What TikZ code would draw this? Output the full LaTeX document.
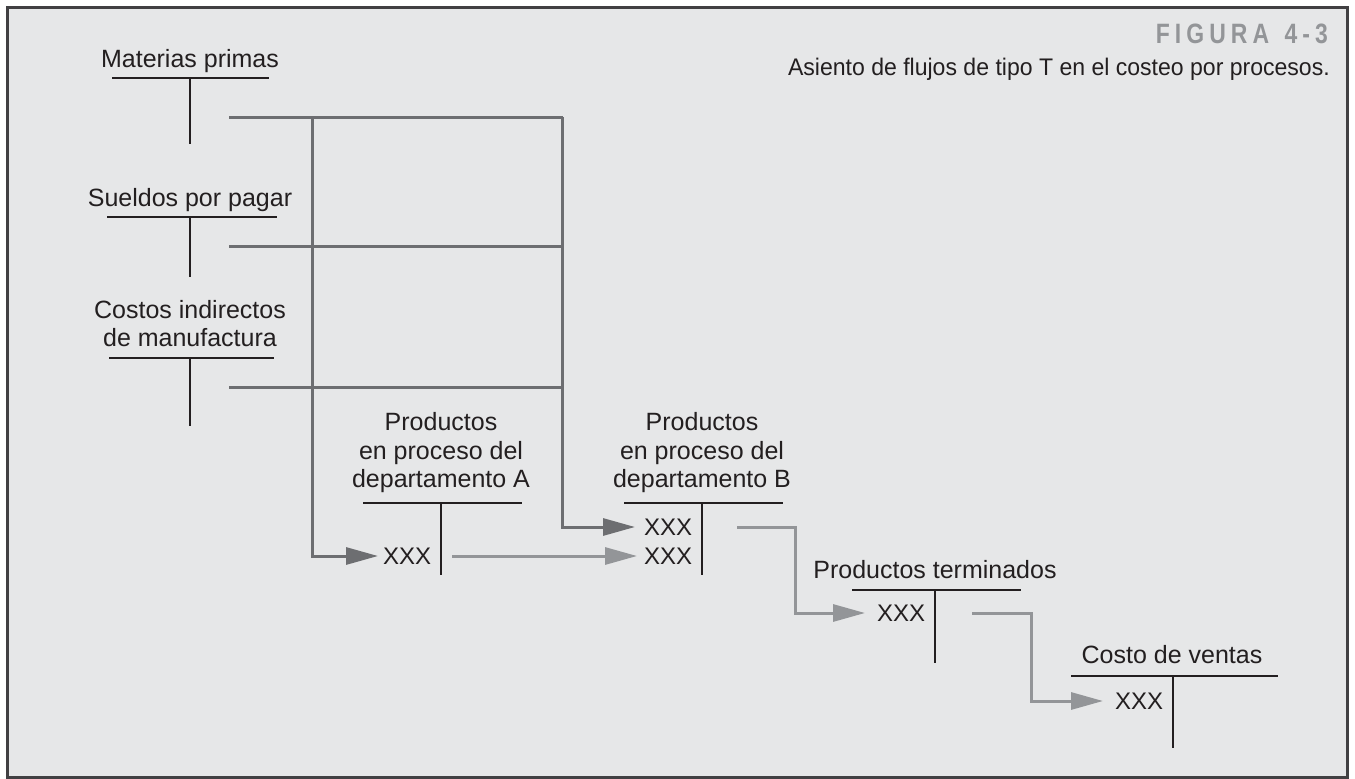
\documentclass[tikz,border=0pt]{standalone}
\usepackage{fontspec}
\setmainfont{Liberation Sans}
\newfontfamily\capfont[FakeStretch=0.96]{Liberation Sans}
\newfontfamily\figfont[LetterSpace=18,FakeStretch=0.82]{Liberation Sans}
\usetikzlibrary{arrows.meta}
\definecolor{bg}{HTML}{E6E7E8}
\definecolor{framec}{HTML}{414042}
\definecolor{bus}{HTML}{6D6E71}
\definecolor{flow}{HTML}{939598}
\definecolor{ink}{HTML}{231F20}
\begin{document}
\begin{tikzpicture}[x=1pt,y=-1pt,
  lbl/.style={font=\fontsize{25}{28.7}\selectfont, text=ink, align=center, anchor=south, inner sep=0pt, text depth=0pt},
  amount/.style={font=\fontsize{24}{28}\selectfont, text=ink, anchor=west, inner sep=0pt},
  tline/.style={draw=ink, line width=1.8pt},
  busline/.style={draw=bus, line width=3pt},
  darkflow/.style={busline, -{Triangle[length=32pt,width=17pt]}},
  lightflow/.style={draw=flow, line width=3pt, -{Triangle[length=32pt,width=17pt]}},
]
\useasboundingbox (0,0) rectangle (1355,779);
\fill[white] (0,0) rectangle (1355,779);
\draw[draw=framec, fill=bg, line width=2.5pt] (7.5,7.5) rectangle (1347.5,777.5);

% titles
\node[anchor=base east, inner sep=0pt, font={\figfont\fontsize{28}{30}\selectfont\bfseries}, text=flow] (fig) at (1328,43) {FIGURA\hspace{4pt} 4-3};
\node[anchor=base east, inner sep=0pt, font={\capfont\fontsize{24}{28}\selectfont}, text=ink] (cap) at (1330,75) {Asiento de flujos de tipo T en el costeo por procesos.};

% T accounts: labels
\node[lbl] (mp) at (190,68) {Materias primas};
\node[lbl] (sp) at (190,207) {Sueldos por pagar};
\node[lbl] (cif) at (190,347) {Costos indirectos\\de manufactura};
\node[lbl] (pa) at (441,488) {Productos\\en proceso del\\departamento A};
\node[lbl] (pb) at (702,488) {Productos\\en proceso del\\departamento B};
\node[lbl] (pt) at (935,579) {Productos terminados};
\node[lbl] (cv) at (1172,664) {Costo de ventas};

% T accounts: bars and stems
\draw[tline] (112,78) -- (269,78);   \draw[tline] (190,78) -- (190,144);
\draw[tline] (107,217) -- (277,217); \draw[tline] (190,217) -- (190,277);
\draw[tline] (109,358) -- (274,358); \draw[tline] (190,358) -- (190,426);
\draw[tline] (363,503) -- (522,503); \draw[tline] (441,503) -- (441,575);
\draw[tline] (624,503) -- (783,503); \draw[tline] (702,503) -- (702,575);
\draw[tline] (852,590) -- (1021,590); \draw[tline] (935,590) -- (935,663);
\draw[tline] (1071,676) -- (1278,676); \draw[tline] (1173,676) -- (1173,748);

% amounts
\node[amount] (xa) at (383,556) {XXX};
\node[amount] (xb1) at (644,527) {XXX};
\node[amount] (xb2) at (644,556) {XXX};
\node[amount] (xpt) at (877,613) {XXX};
\node[amount] (xcv) at (1115,701) {XXX};

% buses
\coordinate (busL) at (312.5,117);
\coordinate (busR) at (562.5,117);
\draw[busline] (229,117) -- (busR);
\draw[busline] (229,246) -- (562.5,246);
\draw[busline] (229,387) -- (562.5,387);
\draw[darkflow] (busL) |- ([xshift=-5pt]xa.west);
\draw[darkflow] (busR) |- ([xshift=-9pt]xb1.west);

% flows
\coordinate (fa) at (452,556);
\coordinate (fb) at (737,527);
\coordinate (fp) at (972,613);
\draw[lightflow] (fa) -- ([xshift=-7pt]xb2.west);
\draw[lightflow] (fb) -- (795,527) |- ([xshift=-12pt]xpt.west);
\draw[lightflow] (fp) -- (1031,613) |- ([xshift=-12pt]xcv.west);
\end{tikzpicture}
\end{document}
